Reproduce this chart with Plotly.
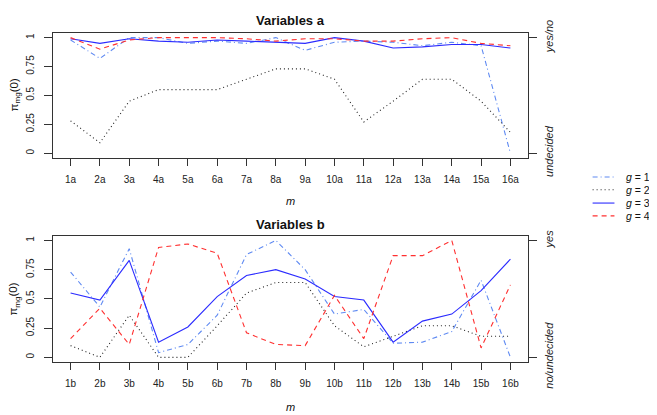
import plotly.graph_objects as go

# ---------------------------- data ----------------------------
labels_a = ["1a", "2a", "3a", "4a", "5a", "6a", "7a", "8a",
            "9a", "10a", "11a", "12a", "13a", "14a", "15a", "16a"]
labels_b = ["1b", "2b", "3b", "4b", "5b", "6b", "7b", "8b",
            "9b", "10b", "11b", "12b", "13b", "14b", "15b", "16b"]

a_g1 = [0.98, 0.82, 1.00, 1.00, 0.95, 0.97, 0.95, 1.00, 0.89, 0.96, 0.97, 0.96, 0.93, 0.96, 0.93, 0.00]
a_g2 = [0.28, 0.09, 0.45, 0.55, 0.55, 0.55, 0.64, 0.73, 0.73, 0.64, 0.27, 0.45, 0.64, 0.64, 0.45, 0.18]
a_g3 = [0.99, 0.95, 0.99, 0.97, 0.96, 0.98, 0.97, 0.96, 0.95, 1.00, 0.97, 0.91, 0.92, 0.94, 0.94, 0.91]
a_g4 = [1.00, 0.90, 0.98, 1.00, 1.00, 1.00, 0.99, 0.97, 0.99, 0.99, 0.97, 0.97, 0.99, 1.00, 0.95, 0.93]

b_g1 = [0.73, 0.43, 0.93, 0.04, 0.11, 0.36, 0.88, 1.00, 0.75, 0.37, 0.41, 0.12, 0.13, 0.22, 0.66, 0.00]
b_g2 = [0.10, 0.00, 0.36, 0.00, 0.00, 0.27, 0.55, 0.64, 0.64, 0.27, 0.09, 0.18, 0.27, 0.27, 0.18, 0.18]
b_g3 = [0.55, 0.49, 0.83, 0.13, 0.26, 0.52, 0.70, 0.75, 0.67, 0.52, 0.49, 0.13, 0.31, 0.37, 0.57, 0.84]
b_g4 = [0.16, 0.42, 0.11, 0.94, 0.97, 0.89, 0.21, 0.11, 0.10, 0.53, 0.16, 0.87, 0.87, 1.00, 0.08, 0.62]

group_names = ["1", "2", "3", "4"]
y_ticks = [0, 0.25, 0.5, 0.75, 1]
y_ticktext = ["0", "0.25", "0.5", "0.75", "1"]
right_a = ["<i>undecided</i>", "<i>yes/no</i>"]
right_b = ["<i>no/undecided</i>", "<i>yes</i>"]

# line styles per group (R-like lty)
styles = [dict(color="#5F8AF2", dash="5px,3px,1px,3px"),
          dict(color="#222222", dash="1px,3px"),
          dict(color="#2B2BFF", dash="solid"),
          dict(color="#FF3030", dash="5px,4px")]

FONT = "Liberation Sans, Arial, sans-serif"

fig = go.Figure()

#------------------------- traces ---------------------------------
for series, st in zip([a_g1, a_g2, a_g3, a_g4], styles):
    fig.add_trace(go.Scatter(x=labels_a, y=series, mode="lines", xaxis="x", yaxis="y",
                             line=dict(color=st["color"], dash=st["dash"], width=1.1),
                             showlegend=False, hoverinfo="skip"))
for series, st in zip([b_g1, b_g2, b_g3, b_g4], styles):
    fig.add_trace(go.Scatter(x=labels_b, y=series, mode="lines", xaxis="x2", yaxis="y3",
                             line=dict(color=st["color"], dash=st["dash"], width=1.1),
                             showlegend=False, hoverinfo="skip"))
# invisible traces so that the right-hand axes get drawn
fig.add_trace(go.Scatter(x=labels_a, y=a_g3, xaxis="x", yaxis="y2", mode="lines",
                         opacity=0, showlegend=False, hoverinfo="skip"))
fig.add_trace(go.Scatter(x=labels_b, y=b_g3, xaxis="x2", yaxis="y4", mode="lines",
                         opacity=0, showlegend=False, hoverinfo="skip"))

#------------------------- axes -----------------------------------
xcommon = dict(type="category", range=[-0.6, 15.6], showline=True, mirror=True,
               linecolor="#333333", linewidth=1, ticks="outside", ticklen=7,
               tickcolor="#333333", showgrid=False, zeroline=False,
               tickfont=dict(size=10, color="#222222", family=FONT),
               ticklabelstandoff=5)
ycommon = dict(range=[-0.04, 1.04], showline=True, mirror=True, linecolor="#333333",
               linewidth=1, ticks="outside", ticklen=8, tickcolor="#333333",
               showgrid=False, zeroline=False, tickvals=y_ticks, ticktext=y_ticktext,
               tickangle=-90, tickfont=dict(size=10, color="#222222", family=FONT),
               ticklabelstandoff=6)
yright = dict(range=[-0.04, 1.04], side="right", showline=False, ticks="outside",
              ticklen=8, tickcolor="#333333", showgrid=False, zeroline=False,
              tickvals=[0, 1], tickangle=-90, ticklabelstandoff=3,
              tickfont=dict(size=11, color="#222222", family=FONT))

fig.update_layout(
    xaxis=dict(xcommon, domain=[0, 1], anchor="y"),
    yaxis=dict(ycommon, domain=[0.6206, 1], anchor="x"),
    yaxis2=dict(yright, ticktext=right_a, overlaying="y", anchor="x"),
    xaxis2=dict(xcommon, domain=[0, 1], anchor="y3"),
    yaxis3=dict(ycommon, domain=[0, 0.3836], anchor="x2"),
    yaxis4=dict(yright, ticktext=right_b, overlaying="y3", anchor="x2"),
)

#--------------------- titles / labels -----------------------------
ann = [
    dict(text="<b>Variables a</b>", x=0.5, y=1.0388, font=dict(size=13)),
    dict(text="<b>Variables b</b>", x=0.5, y=0.4183, font=dict(size=13)),
    dict(text="<i>m</i>", x=0.5, y=0.4891, font=dict(size=11)),
    dict(text="<i>m</i>", x=0.5, y=-0.138, font=dict(size=11)),
    dict(text="π<sub>mg</sub>(0)", x=-0.081, y=0.8118, textangle=-90, font=dict(size=11.5)),
    dict(text="π<sub>mg</sub>(0)", x=-0.081, y=0.1912, textangle=-90, font=dict(size=11.5)),
]

# manual legend (R style, outside the plot on the right)
leg_y = [0.5623, 0.5235, 0.4831, 0.4443]
shapes = []
for name, st, yy in zip(group_names, styles, leg_y):
    shapes.append(dict(type="line", xref="paper", yref="paper", x0=1.136, x1=1.182,
                       y0=yy, y1=yy, line=dict(color=st["color"], dash=st["dash"], width=1.1)))
    ann.append(dict(text="<i>g</i> = " + name, x=1.203, y=yy, xanchor="left",
                    font=dict(size=10.5)))

for a in ann:
    a.setdefault("xanchor", "center")
    a.update(xref="paper", yref="paper", yanchor="middle", showarrow=False)
    a["font"] = dict(a["font"], family=FONT, color="#111111")

# the page body adds an 8px offset, so the figure is 8px smaller than the window
fig.update_layout(annotations=ann, shapes=shapes,
                  width=649, height=407,
                  margin=dict(l=45, r=128.7, t=19, b=53.3),
                  paper_bgcolor="white", plot_bgcolor="white",
                  font=dict(family=FONT), showlegend=False)

fig.write_html("out.html")
